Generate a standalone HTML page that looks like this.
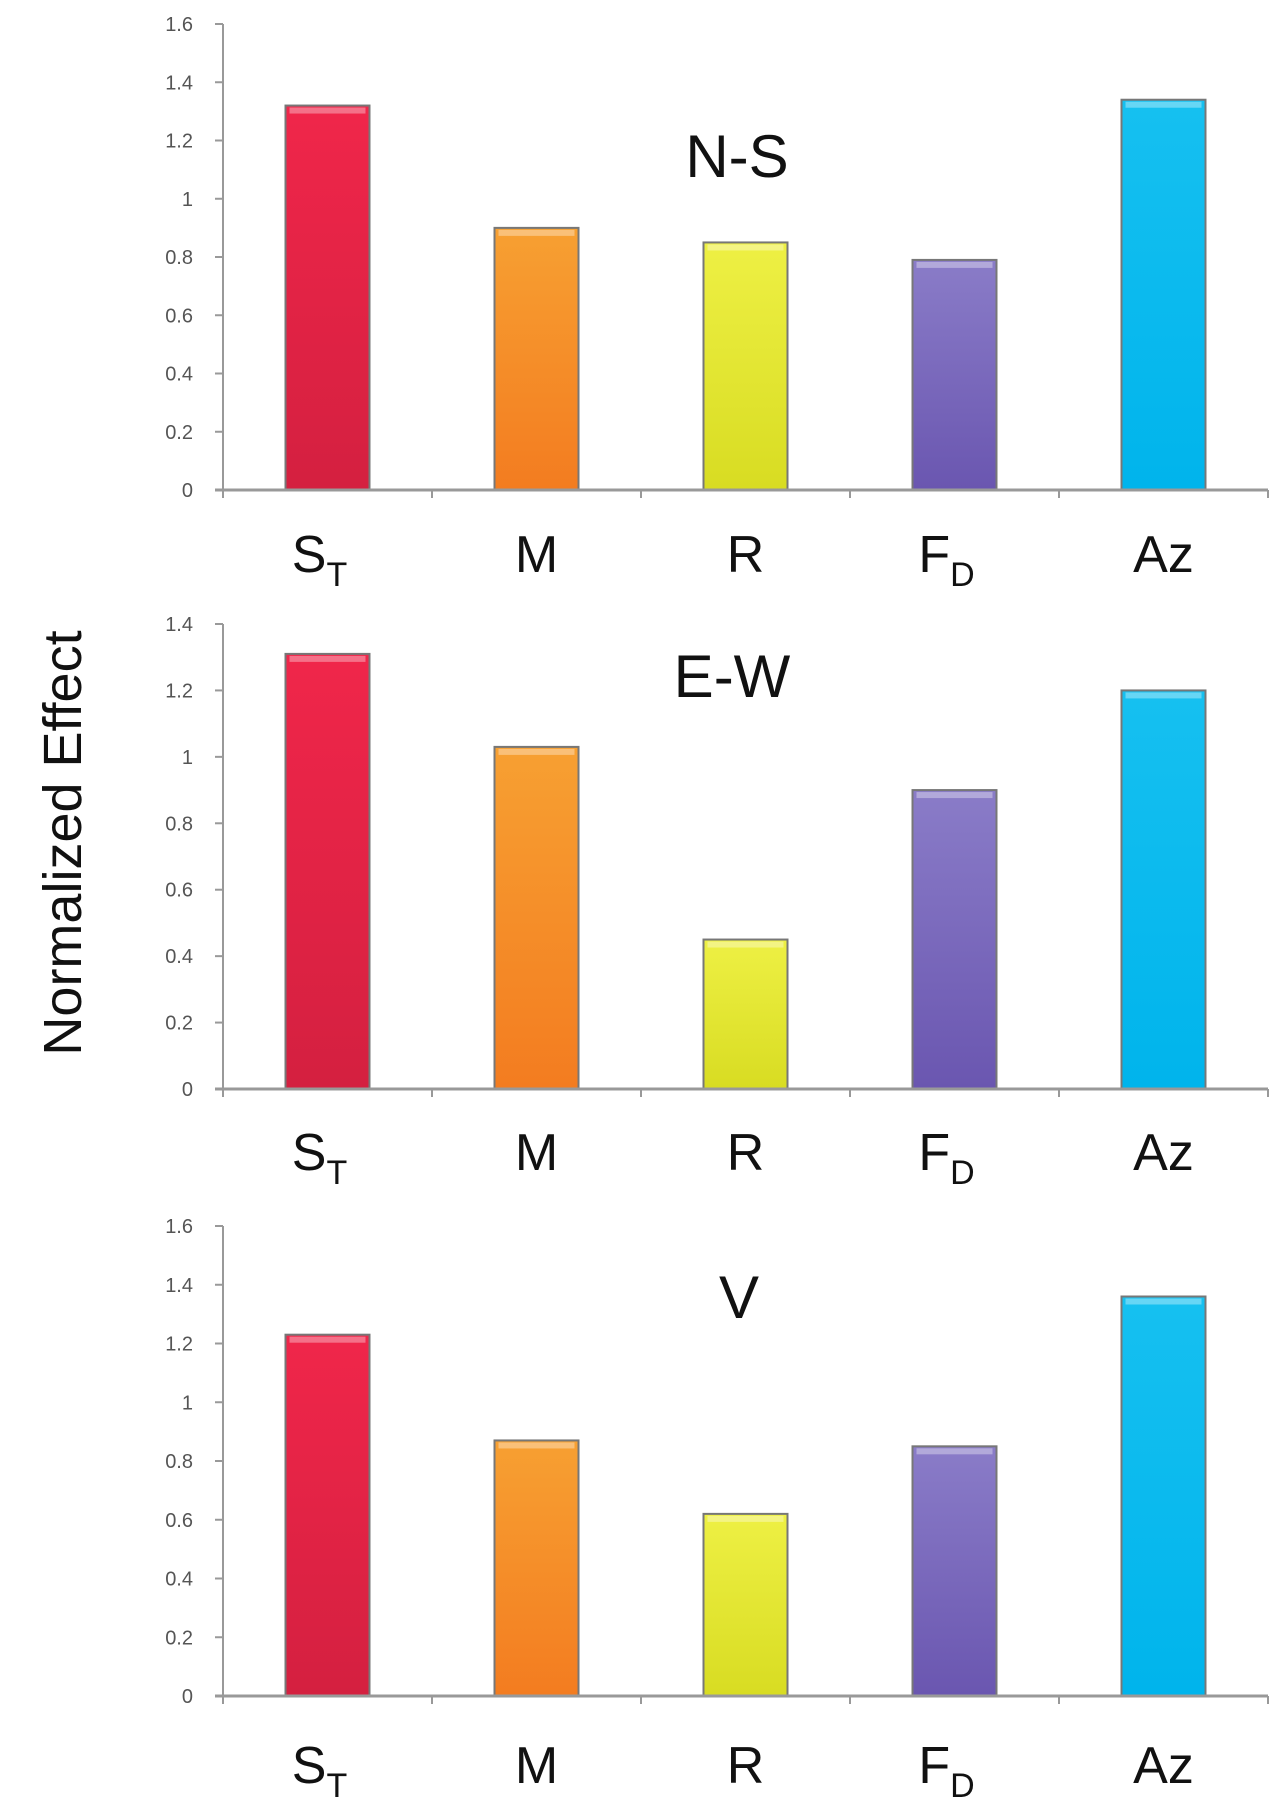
<!DOCTYPE html>
<html><head><meta charset="utf-8"><style>
html,body{margin:0;padding:0;background:#fff;}
svg{display:block;}
text{font-family:"Liberation Sans",sans-serif;}
.cat{font-family:"Liberation Sans Narrow","Liberation Sans",sans-serif;}
</style></head><body>
<svg id="chart" width="1280" height="1801" viewBox="0 0 1280 1801" xmlns="http://www.w3.org/2000/svg">
<defs>
<linearGradient id="gST" x1="0" y1="0" x2="0" y2="1"><stop offset="0" stop-color="#f0264a"/><stop offset="1" stop-color="#d42040"/></linearGradient>
<linearGradient id="gM" x1="0" y1="0" x2="0" y2="1"><stop offset="0" stop-color="#f7a032"/><stop offset="1" stop-color="#f37c20"/></linearGradient>
<linearGradient id="gR" x1="0" y1="0" x2="0" y2="1"><stop offset="0" stop-color="#eef044"/><stop offset="1" stop-color="#d8dc22"/></linearGradient>
<linearGradient id="gFD" x1="0" y1="0" x2="0" y2="1"><stop offset="0" stop-color="#8a7cc8"/><stop offset="1" stop-color="#6a56b0"/></linearGradient>
<linearGradient id="gAz" x1="0" y1="0" x2="0" y2="1"><stop offset="0" stop-color="#16c0f0"/><stop offset="1" stop-color="#00b4ec"/></linearGradient>
</defs>
<text x="0" y="0" transform="translate(63,843) rotate(-90)" text-anchor="middle" dominant-baseline="central" font-size="54" fill="#111">Normalized Effect</text>
<g id="panels"></g>
</svg>
<script>
const categories = ["S", "M", "R", "F", "Az"];
const subscripts = ["T", "", "", "D", ""];
const panelTitles = ["N-S", "E-W", "V"];
const valuesNS = [1.32, 0.90, 0.85, 0.79, 1.34];
const valuesEW = [1.31, 1.03, 0.45, 0.90, 1.20];
const valuesV = [1.23, 0.87, 0.62, 0.85, 1.36];
const ticksNS = [0, 0.2, 0.4, 0.6, 0.8, 1, 1.2, 1.4, 1.6];
const ticksEW = [0, 0.2, 0.4, 0.6, 0.8, 1, 1.2, 1.4];
const ticksV = [0, 0.2, 0.4, 0.6, 0.8, 1, 1.2, 1.4, 1.6];

const NS = "http://www.w3.org/2000/svg";
const fills = ["url(#gST)", "url(#gM)", "url(#gR)", "url(#gFD)", "url(#gAz)"];
const layouts = [
  {y0: 490, yTop: 24, max: 1.6, labelY: 572, titleX: 737, titleY: 177},
  {y0: 1089, yTop: 624, max: 1.4, labelY: 1170, titleX: 732, titleY: 697},
  {y0: 1696, yTop: 1226, max: 1.6, labelY: 1783, titleX: 739, titleY: 1318}
];
const allValues = [valuesNS, valuesEW, valuesV];
const allTicks = [ticksNS, ticksEW, ticksV];
const xL = 223, xR = 1268;
const bw = (xR - xL) / categories.length;
const barW = 84;
const root = document.getElementById('panels');
function mk(tag, attrs, parent) {
  const e = document.createElementNS(NS, tag);
  for (const k in attrs) e.setAttribute(k, attrs[k]);
  parent.appendChild(e);
  return e;
}
layouts.forEach((L, p) => {
  const yScale = v => L.y0 - (v / L.max) * (L.y0 - L.yTop);
  const xScale = i => xL + bw * (i + 0.5);
  const g = mk('g', {}, root);
  
  
  const ya = mk('line', {x1: xL, x2: xL, y1: L.yTop, y2: L.y0, stroke: '#999', 'stroke-width': 2}, g);
  
  
  allTicks[p].forEach(t => {
    const y = yScale(t);
    const tk = mk('line', {x1: xL - 8, x2: xL, y1: y, y2: y, stroke: '#999', 'stroke-width': 2}, g);
    
    
    const tl = mk('text', {x: 193, y: y + 7, 'text-anchor': 'end', 'font-size': 20, fill: '#555'}, g);
    
    
    tl.textContent = String(t);
  });
  allValues[p].forEach((v, i) => {
    const x = xScale(i) - barW / 2, y = yScale(v);
    const b = mk('rect', {x: x, y: y, width: barW, height: L.y0 - y, fill: fills[i], stroke: '#777', 'stroke-width': 2}, g);
    
    
    const hl = mk('rect', {x: x + 4, y: y + 2, width: barW - 8, height: 6, fill: '#fff', opacity: 0.35}, g);
    
    
    const lab = mk('text', {x: xScale(i) - (subscripts[i] ? 8 : 0), y: L.labelY, 'text-anchor': 'middle', 'font-size': 52, fill: '#111', class: 'cat'}, g);
    
    
    lab.textContent = categories[i];
    if (subscripts[i]) {
      const s = mk('tspan', {'font-size': 34, dy: 14}, lab);
      s.textContent = subscripts[i];
    }
  });
  const xa = mk('line', {x1: xL - 8, x2: xR, y1: L.y0, y2: L.y0, stroke: '#999', 'stroke-width': 3}, g);
  
  
  for (let i = 0; i <= categories.length; i++) {
    const x = xL + bw * i;
    const ct = mk('line', {x1: x, x2: x, y1: L.y0, y2: L.y0 + 8, stroke: '#999', 'stroke-width': 2}, g);
    
    
  }
  const tt = mk('text', {x: L.titleX, y: L.titleY, 'text-anchor': 'middle', 'font-size': 60, fill: '#111'}, g);
  
  
  tt.textContent = panelTitles[p];
});
</script>
</body></html>
